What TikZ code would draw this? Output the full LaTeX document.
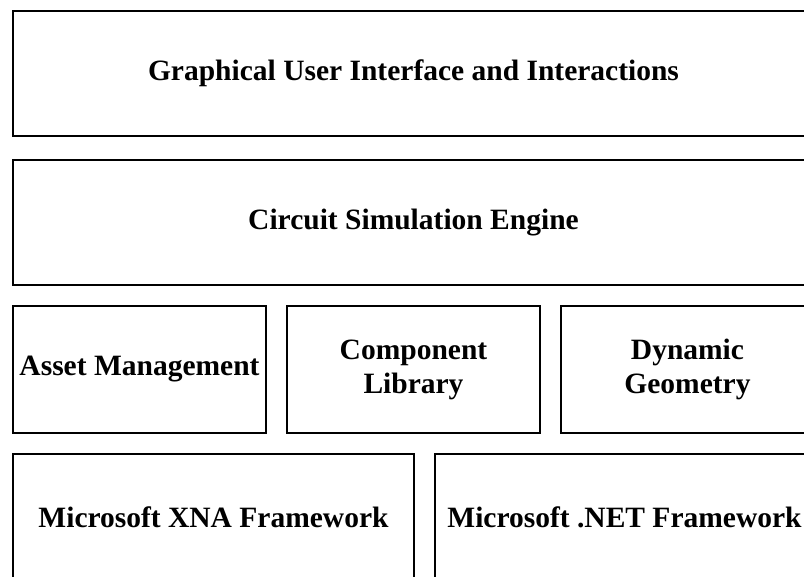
\documentclass[tikz,border=0pt]{standalone}
\usepackage{fontspec}
\setmainfont{Liberation Serif}
\usepackage{tikz}
\usetikzlibrary{positioning}

\tikzset{
    layer/.style={draw=black, line width=1pt, anchor=north west, inner sep=0pt,
                  align=center, font=\fontsize{14.75}{17}\selectfont\bfseries},
    widelayer/.style={layer, minimum width=400.5pt, minimum height=62.5pt},
    modulebox/.style={layer, minimum width=126.5pt, minimum height=63.5pt}
}

\begin{document}
\begin{tikzpicture}[x=0.5pt, y=-0.5pt]
    \useasboundingbox (0,0) rectangle (804,577);
    \clip (0,0) rectangle (804,577);

    % top layers
    \node[widelayer] (gui) at (12,10) {Graphical User Interface and Interactions};
    \node[widelayer] (engine) at (12,159) {Circuit Simulation Engine};

    % modules
    \node[modulebox] (assets) at (12,305) {Asset Management};
    \node[modulebox] (complib) at (286,305) {Component\\Library};
    \node[modulebox] (geometry) at (560,305) {Dynamic\\Geometry};

    % frameworks
    \node[layer, minimum width=200.5pt, minimum height=63.5pt] (xna) at (12,453) {Microsoft XNA Framework};
    \node[layer, minimum width=189.5pt, minimum height=63.5pt] (dotnet) at (434,453) {Microsoft .NET Framework};
\end{tikzpicture}
\end{document}
